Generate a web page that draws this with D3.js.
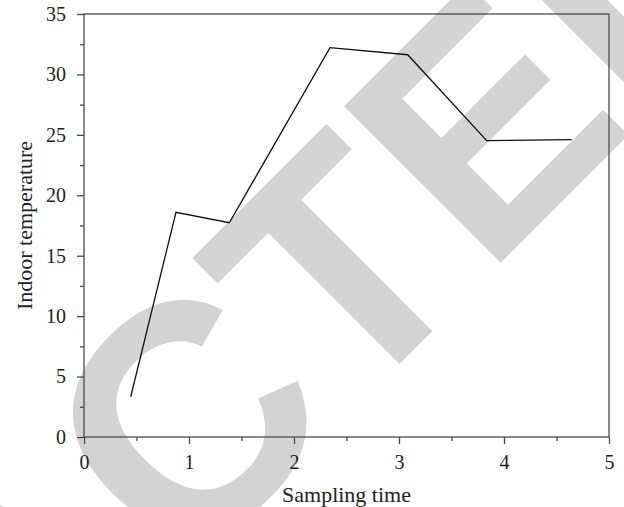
<!DOCTYPE html>
<html>
<head>
<meta charset="utf-8">
<script src="https://cdn.jsdelivr.net/npm/d3@7"></script>
<style>
  html, body { margin: 0; padding: 0; background: #fff; }
  svg { display: block; }
</style>
</head>
<body>
<svg id="chart" width="624" height="507"></svg>
<script>
// ---- data ----
const sampleTime = [0.445, 0.876, 1.384, 2.343, 3.083, 3.835, 4.645];
const temperature = [3.33, 18.59, 17.73, 32.21, 31.63, 24.52, 24.60];
const xTickValues = [0, 1, 2, 3, 4, 5];
const xMinorValues = [0.5, 1.5, 2.5, 3.5, 4.5];
const yTickValues = [0, 5, 10, 15, 20, 25, 30, 35];
const yMinorValues = [2.5, 7.5, 12.5, 17.5, 22.5, 27.5, 32.5];
const xTitle = "Sampling time";
const yTitle = "Indoor temperature";
const watermark = "RETRACTED";

// ---- layout ----
const W = 624, H = 507;
const margin = { left: 84, top: 14, right: 15, bottom: 70 };
const svg = d3.select("#chart");
const x = d3.scaleLinear().domain([0, 5]).range([margin.left, W - margin.right]);
const y = d3.scaleLinear().domain([0, 35]).range([H - margin.bottom, margin.top]);

const axisColor = "#4a4a4a";
const serif = "'Liberation Serif', 'Times New Roman', serif";

// ---- watermark (behind) ----
const wm = svg.append("text")
  .text(watermark)
  .attr("font-family", "'Liberation Sans', Arial, sans-serif")
  .attr("font-weight", "bold")
  .attr("font-size", 322)
  .attr("fill", "#d3d3d3");
const tPos = wm.node().getStartPositionOfChar(6).x;
wm.attr("transform", `translate(346.4,417.1) rotate(-45) translate(${-tPos},0)`);

// ---- axes ----
const y0 = y(0);
const gx = svg.append("g").attr("transform", `translate(0,${y0})`)
  .call(d3.axisBottom(x).tickValues(xTickValues).tickSize(7).tickPadding(11).tickFormat(d3.format("d")));
const gxm = svg.append("g").attr("transform", `translate(0,${y0})`)
  .call(d3.axisBottom(x).tickValues(xMinorValues).tickSize(4).tickFormat(""));
const gy = svg.append("g").attr("transform", `translate(${x(0)},0)`)
  .call(d3.axisLeft(y).tickValues(yTickValues).tickSize(7).tickPadding(11).tickFormat(d3.format("d")));
const gym = svg.append("g").attr("transform", `translate(${x(0)},0)`)
  .call(d3.axisLeft(y).tickValues(yMinorValues).tickSize(4).tickFormat(""));

[gx, gxm, gy, gym].forEach(g => {
  g.select(".domain").remove();
  g.selectAll(".tick line").attr("stroke", axisColor).attr("stroke-width", 1.3);
  g.selectAll("text").attr("font-family", serif).attr("font-size", 20).attr("fill", "#222");
});

// frame
svg.append("rect")
  .attr("x", x(0)).attr("y", y(35))
  .attr("width", x(5) - x(0)).attr("height", y(0) - y(35))
  .attr("fill", "none").attr("stroke", axisColor).attr("stroke-width", 1.3);

// ---- line ----
const pts = sampleTime.map((t, i) => [t, temperature[i]]);
svg.append("path")
  .datum(pts)
  .attr("fill", "none")
  .attr("stroke", "#111")
  .attr("stroke-width", 1.3)
  .attr("d", d3.line().x(d => x(d[0])).y(d => y(d[1])));

// ---- titles ----
svg.append("text")
  .attr("x", (x(0) + x(5)) / 2).attr("y", 502)
  .attr("text-anchor", "middle")
  .attr("font-family", serif).attr("font-size", 22).attr("fill", "#222")
  .text(xTitle);
svg.append("text")
  .attr("transform", `translate(32,${(y(0) + y(35)) / 2}) rotate(-90)`)
  .attr("text-anchor", "middle")
  .attr("font-family", serif).attr("font-size", 22).attr("fill", "#222")
  .text(yTitle);
</script>
</body>
</html>
